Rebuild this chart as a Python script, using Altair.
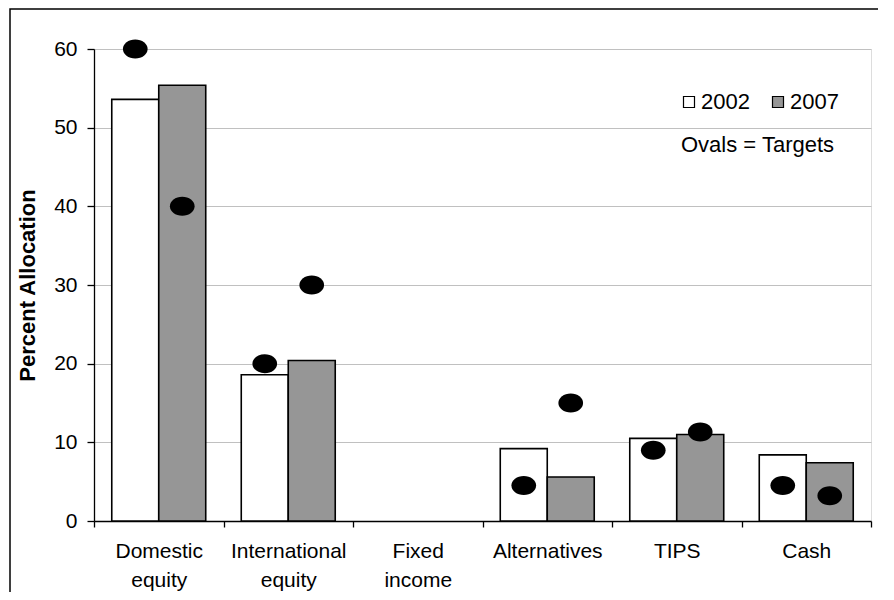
import altair as alt
import pandas as pd

categories = ["Domestic equity", "International equity", "Fixed income",
              "Alternatives", "TIPS", "Cash"]
years = ["2002", "2007"]
alloc_2002 = [53.6, 18.6, None, 9.2, 10.5, 8.4]
alloc_2007 = [55.4, 20.4, None, 5.6, 11.0, 7.4]
target_2002 = [60, 20, None, 4.5, 9.0, 4.5]
target_2007 = [40, 30, None, 15, 11.3, 3.2]
note_text = ["Ovals = Targets"]

bar_rows = []
tgt_rows = []
for i, c in enumerate(categories):
    for y, a, t in ((years[0], alloc_2002, target_2002), (years[1], alloc_2007, target_2007)):
        if a[i] is not None:
            bar_rows.append({"category": c, "year": y, "value": a[i]})
        if t[i] is not None:
            tgt_rows.append({"category": c, "year": y, "target": t[i]})
df_bars = pd.DataFrame(bar_rows)
df_tgt = pd.DataFrame(tgt_rows)

FONT = "Liberation Sans"

x_enc = alt.X(
    "category:N",
    sort=categories,
    scale=alt.Scale(domain=categories, paddingInner=0, paddingOuter=0),
    axis=alt.Axis(
        title=None, labelAngle=0, labelFontSize=21, labelFont=FONT, labelColor="black",
        labelLineHeight=29, labelExpr="split(datum.label, ' ')", labelBaseline="top",
        labelPadding=13, labelOverlap=False, labelLimit=300,
        tickBand="extent", tickSize=6, tickColor="black", tickWidth=1.3,
        domainColor="black", domainWidth=1.3, grid=False,
    ),
)
xoff_enc = alt.XOffset("year:N", sort=years,
                       scale=alt.Scale(domain=years, paddingInner=0, paddingOuter=0.378))
y_axis = alt.Axis(
    title="Percent Allocation", titleFontSize=22, titleFontWeight="bold", titleFont=FONT,
    titleColor="black", titlePadding=14,
    values=[0, 10, 20, 30, 40, 50, 60], labelFontSize=21, labelFont=FONT, labelColor="black",
    labelPadding=10, tickSize=7, tickColor="black", tickWidth=1.3,
    domainColor="black", domainWidth=1.3, gridColor="#c0c0c0", gridWidth=1,
)

frame = alt.Chart(pd.DataFrame({"k": [0]})).mark_rect(
    fillOpacity=0, stroke="black", strokeWidth=1.5
).encode(x=alt.value(-84), x2=alt.value(830), y=alt.value(-40), y2=alt.value(620))

bars = alt.Chart(df_bars).mark_bar(stroke="black", strokeWidth=1.6).encode(
    x=x_enc,
    xOffset=xoff_enc,
    y=alt.Y("value:Q", scale=alt.Scale(domain=[0, 60], nice=False), axis=y_axis),
    fill=alt.Fill(
        "year:N",
        scale=alt.Scale(domain=years, range=["white", "#969696"]),
        legend=alt.Legend(
            title=None, orient="none", legendX=584, legendY=42, direction="horizontal",
            symbolType="square", symbolSize=121, symbolStrokeColor="black",
            symbolStrokeWidth=1.2, symbolOpacity=1, labelFontSize=22, labelFont=FONT,
            labelColor="black", labelOffset=1, columnPadding=17, padding=0,
        ),
    ),
)

oval_path = "M -1 0 A 1 0.77 0 1 0 1 0 A 1 0.77 0 1 0 -1 0 Z"
ovals = alt.Chart(df_tgt).mark_point(
    filled=True, shape=oval_path, size=610, color="black", opacity=1
).encode(
    x=alt.X("category:N", sort=categories),
    xOffset=alt.XOffset("year:N", sort=years),
    y=alt.Y("target:Q"),
)

note = alt.Chart(pd.DataFrame({"t": note_text})).mark_text(
    align="left", baseline="middle", fontSize=22, font=FONT, color="black"
).encode(text="t:N", x=alt.value(587), y=alt.value(96))

chart = alt.layer(frame, bars, ovals, note).properties(
    width=777, height=472,
    padding={"left": 86, "top": 41, "right": 7, "bottom": 71},
    autosize=alt.AutoSizeParams(type="none"),
).configure_view(stroke="#808080", strokeWidth=1.5).configure(font=FONT)

chart.save("out.html", embed_options={"renderer": "svg", "actions": False})
